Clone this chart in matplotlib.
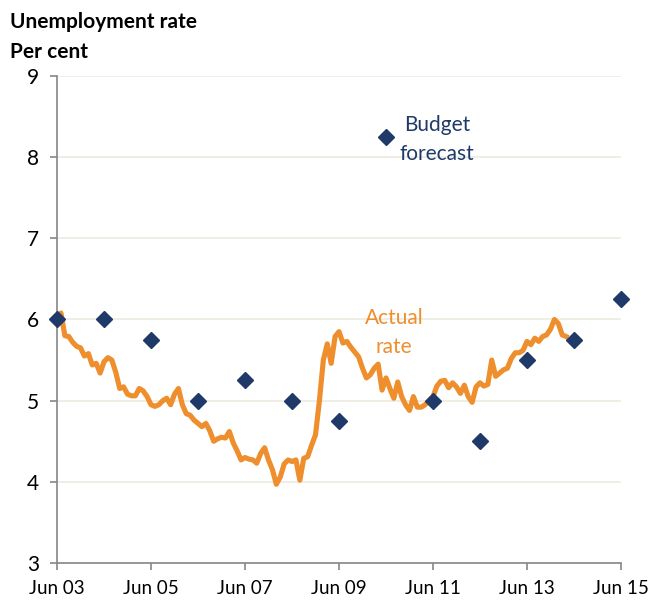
import matplotlib.pyplot as plt

# Budget forecasts, one per June (Jun 03 .. Jun 15)
forecast_labels = ["Jun 03", "Jun 04", "Jun 05", "Jun 06", "Jun 07", "Jun 08", "Jun 09",
                   "Jun 10", "Jun 11", "Jun 12", "Jun 13", "Jun 14", "Jun 15"]
forecast_values = [6.0, 6.0, 5.75, 5.0, 5.25, 5.0, 4.75, 8.25, 5.0, 4.5, 5.5, 5.75, 6.25]

# Actual monthly unemployment rate, starting Jun 03
actual_rate = [
    6.0, 6.08, 5.80, 5.79, 5.72, 5.67, 5.65, 5.55, 5.58, 5.44, 5.46, 5.34,
    5.48, 5.53, 5.50, 5.35, 5.15, 5.17, 5.08, 5.06, 5.06, 5.15, 5.12, 5.05,
    4.95, 4.93, 4.95, 5.00, 5.03, 4.95, 5.08, 5.15, 4.95, 4.84, 4.82, 4.76,
    4.72, 4.68, 4.72, 4.63, 4.50, 4.53, 4.55, 4.54, 4.62, 4.48, 4.38, 4.27,
    4.30, 4.28, 4.27, 4.23, 4.35, 4.42, 4.27, 4.15, 3.97, 4.06, 4.22, 4.27,
    4.25, 4.27, 4.02, 4.29, 4.31, 4.45, 4.58, 5.00, 5.50, 5.70, 5.46, 5.79,
    5.85, 5.71, 5.73, 5.66, 5.60, 5.54, 5.40, 5.28, 5.32, 5.40, 5.45, 5.13,
    5.28, 5.15, 5.03, 5.23, 5.05, 4.95, 4.88, 5.05, 4.92, 4.92, 4.95, 5.00,
    5.05, 5.18, 5.24, 5.25, 5.16, 5.22, 5.17, 5.09, 5.19, 5.05, 4.98, 5.17,
    5.22, 5.18, 5.20, 5.50, 5.30, 5.34, 5.38, 5.40, 5.52, 5.59, 5.59, 5.62,
    5.73, 5.69, 5.77, 5.73, 5.79, 5.81, 5.88, 6.00, 5.95, 5.81, 5.79,
]

tick_labels = ["Jun 03", "Jun 05", "Jun 07", "Jun 09", "Jun 11", "Jun 13", "Jun 15"]

orange = "#EE8E2C"
navy = "#1F3A68"
axis_grey = "#868686"

plt.rcParams['font.family'] = ['Lato', 'DejaVu Sans']

fig = plt.figure(figsize=(6.54, 6.03), dpi=100)
ax = fig.add_axes([0.0872, 0.0663, 0.8623, 0.8077])

months = list(range(len(actual_rate)))
forecast_months = [12 * i for i in range(len(forecast_values))]

ax.plot(months, actual_rate, color=orange, linewidth=3.7, solid_joinstyle='round', zorder=2)
ax.plot(forecast_months, forecast_values, linestyle='none', marker='D', markersize=8.5,
        color=navy, zorder=3, clip_on=False)

ax.set_xlim(0, 144)
ax.set_ylim(3, 9)
ax.set_xticks([24 * i for i in range(len(tick_labels))])
ax.set_xticklabels(tick_labels)
ax.set_yticks(range(3, 10))

ax.grid(axis='y', color='#EDEAE0', linewidth=1.2)
ax.set_axisbelow(True)
for side in ['top', 'right']:
    ax.spines[side].set_visible(False)
for side in ['left', 'bottom']:
    ax.spines[side].set_color(axis_grey)
    ax.spines[side].set_linewidth(1.2)
ax.tick_params(axis='both', colors=axis_grey, length=5, width=1.2, labelcolor='black')
ax.tick_params(axis='x', labelsize=13.5, pad=7)
ax.tick_params(axis='y', labelsize=15, pad=8)

ax.text(97, 8.22, "Budget\nforecast", color=navy, fontsize=15, ha='center', va='center',
        linespacing=1.55)
ax.text(86, 5.84, "Actual\nrate", color=orange, fontsize=15, ha='center', va='center',
        linespacing=1.55)

fig.text(0.015, 0.963, "Unemployment rate", fontsize=15, fontweight='bold', va='center')
fig.text(0.015, 0.914, "Per cent", fontsize=15, fontweight='bold', va='center')

fig.savefig("out.png", dpi=100)
